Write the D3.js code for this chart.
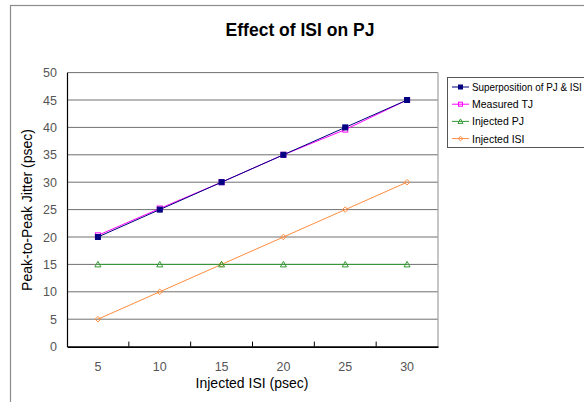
<!DOCTYPE html>
<html>
<head>
<meta charset="utf-8">
<script src="https://cdn.jsdelivr.net/npm/d3@7"></script>
<style>
  html, body { margin: 0; padding: 0; background: #ffffff; }
  svg { display: block; font-family: "Liberation Sans", Arial, sans-serif; }
</style>
</head>
<body>
<svg id="chart" width="584" height="402"></svg>
<script>
// Injected ISI values (category axis)
const categories = [5, 10, 15, 20, 25, 30];
// Series values in psec
const superposition = [20, 25, 30, 35, 40, 45];
const measuredTJ = [20.3, 25.2, 30, 35, 39.6, 45];
const injectedPJ = [15, 15, 15, 15, 15, 15];
const injectedISI = [5, 10, 15, 20, 25, 30];
const yTicks = [0, 5, 10, 15, 20, 25, 30, 35, 40, 45, 50];

const series = [
  { name: "Superposition of PJ & ISI", values: superposition, color: "#000080", marker: "square", fill: "#000080", stroke: "#000080" },
  { name: "Measured TJ", values: measuredTJ, color: "#ff00ff", marker: "square", fill: "none", stroke: "#ff00ff" },
  { name: "Injected PJ", values: injectedPJ, color: "#339933", marker: "triangle", fill: "none", stroke: "#339933" },
  { name: "Injected ISI", values: injectedISI, color: "#ff8c40", marker: "diamond", fill: "none", stroke: "#ff8c40" }
];

const svg = d3.select("#chart");
const plot = { left: 67, right: 438, top: 72.6, bottom: 346.6 };

// Outer chart frame
svg.append("rect").attr("x", 10.5).attr("y", 5.5).attr("width", 600).attr("height", 420)
  .attr("fill", "#ffffff").attr("stroke", "#8c8c8c").attr("stroke-width", 1.2);

const x = d3.scaleBand().domain(categories).range([plot.left, plot.right]).padding(0);
const y = d3.scaleLinear().domain([0, 50]).range([plot.bottom, plot.top]);
const cx = d => x(d) + x.bandwidth() / 2;

// Plot area
svg.append("rect").attr("x", plot.left).attr("y", plot.top)
  .attr("width", plot.right - plot.left).attr("height", plot.bottom - plot.top)
  .attr("fill", "#ffffff");

// Horizontal gridlines
svg.append("g").selectAll("line").data(yTicks.filter(t => t > 0)).join("line")
  .attr("x1", plot.left).attr("x2", plot.right)
  .attr("y1", d => y(d)).attr("y2", d => y(d))
  .attr("stroke", "#707070").attr("stroke-width", 1);

// Right border of the plot area
svg.append("line").attr("x1", plot.right).attr("x2", plot.right)
  .attr("y1", plot.top).attr("y2", plot.bottom)
  .attr("stroke", "#a0a0a0").attr("stroke-width", 1.2);

// Y axis
const yAxis = d3.axisLeft(y).tickValues(yTicks).tickSize(0).tickPadding(10);
const gy = svg.append("g").attr("transform", `translate(${plot.left},0)`).call(yAxis);
gy.select(".domain").attr("stroke", "#000").attr("stroke-width", 1.2);
gy.selectAll("text").attr("font-size", 12.5).attr("fill", "#555");

// X axis with tick marks between categories, pointing into the plot
const gx = svg.append("g").attr("transform", `translate(0,${plot.bottom})`)
  .call(d3.axisBottom(x).tickSize(0).tickPadding(16));
gx.select(".domain").attr("stroke", "#000").attr("stroke-width", 1.6);
gx.selectAll("text").attr("font-size", 12.5).attr("fill", "#555");
gx.append("g").selectAll("line").data(categories.slice(1)).join("line")
  .attr("x1", d => x(d)).attr("x2", d => x(d))
  .attr("y1", 0).attr("y2", -5)
  .attr("stroke", "#000").attr("stroke-width", 1);

// Marker shapes
function drawMarker(g, s, px, py, size) {
  if (s.marker === "square") {
    g.append("rect").attr("x", px - size / 2).attr("y", py - size / 2)
      .attr("width", size).attr("height", size)
      .attr("fill", s.fill).attr("stroke", s.stroke).attr("stroke-width", 1);
  } else if (s.marker === "triangle") {
    const h = size;
    g.append("path")
      .attr("d", `M${px},${py - h / 2 - 0.5} L${px + h / 2 + 0.5},${py + h / 2} L${px - h / 2 - 0.5},${py + h / 2} Z`)
      .attr("fill", "none").attr("stroke", s.stroke).attr("stroke-width", 1);
  } else {
    const r = size / 2 + 0.3;
    g.append("path")
      .attr("d", `M${px},${py - r} L${px + r},${py} L${px},${py + r} L${px - r},${py} Z`)
      .attr("fill", "none").attr("stroke", s.stroke).attr("stroke-width", 1);
  }
}

const line = d3.line().x((d, i) => cx(categories[i])).y(d => y(d));

// Draw series back to front so the superposition sits on top
[...series].reverse().forEach(s => {
  const g = svg.append("g");
  g.append("path").datum(s.values).attr("d", line)
    .attr("fill", "none").attr("stroke", s.color).attr("stroke-width", 1);
  s.values.forEach((v, i) => drawMarker(g, s, cx(categories[i]), y(v), 5));
});

// Title
svg.append("text").attr("x", 300).attr("y", 36).attr("text-anchor", "middle")
  .attr("font-size", 17.5).attr("font-weight", "bold").attr("fill", "#000")
  .text("Effect of ISI on PJ");

// Axis titles
svg.append("text").attr("x", 252).attr("y", 388).attr("text-anchor", "middle")
  .attr("font-size", 14).attr("fill", "#000").text("Injected ISI (psec)");
svg.append("text").attr("transform", "translate(32,210) rotate(-90)")
  .attr("text-anchor", "middle").attr("font-size", 14).attr("fill", "#000")
  .text("Peak-to-Peak Jitter (psec)");

// Legend
const legend = svg.append("g");
legend.append("rect").attr("x", 447.5).attr("y", 77.5).attr("width", 160).attr("height", 70)
  .attr("fill", "#ffffff").attr("stroke", "#555").attr("stroke-width", 1);
const labelX = 472, maxLabelWidth = 110;
series.forEach((s, i) => {
  const ly = 87 + i * 17.2;
  const g = legend.append("g");
  g.append("line").attr("x1", 452).attr("x2", 469).attr("y1", ly).attr("y2", ly)
    .attr("stroke", s.color).attr("stroke-width", 1);
  drawMarker(g, s, 460.5, ly, 4);
  const t = g.append("text").attr("x", 0).attr("y", 0).attr("font-size", 10.5)
    .attr("fill", "#000").text(s.name);
  // Narrow long labels horizontally so they stay inside the frame
  const w = t.node().getComputedTextLength();
  const k = w > maxLabelWidth ? maxLabelWidth / w : 1;
  t.attr("transform", `translate(${labelX},${ly + 4}) scale(${k},1)`);
});
</script>
</body>
</html>
